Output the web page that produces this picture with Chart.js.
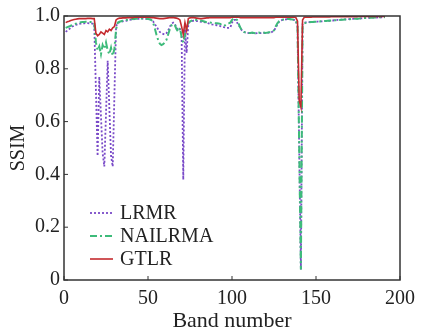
<!DOCTYPE html>
<html>
<head>
<meta charset="utf-8">
<script src="https://cdn.jsdelivr.net/npm/chart.js@4"></script>
<style>
html,body{margin:0;padding:0;background:#fff;}
#wrap{width:428px;height:331px;}
</style>
</head>
<body>
<div id="wrap"><canvas id="c" width="428" height="331"></canvas></div>
<script>
// ---- data (bands 1..191) ----
const bands = Array.from({length: 191}, (_, i) => i + 1);
const xTicks = [0, 50, 100, 150, 200];
const yTicks = [0, 0.2, 0.4, 0.6, 0.8, 1.0];
const seriesNames = ['LRMR', 'NAILRMA', 'GTLR'];

const lrmr = [
  0.94,0.945,0.95,0.955,0.96,0.963,0.966,0.968,0.97,0.971,
  0.972,0.972,0.973,0.973,0.972,0.972,0.971,0.97,0.72,0.47,
  0.77,0.62,0.48,0.43,0.63,0.83,0.65,0.47,0.43,0.70,
  0.96,0.975,0.976,0.978,0.98,0.981,0.982,0.984,0.985,0.986,
  0.987,0.988,0.988,0.989,0.989,0.99,0.99,0.99,0.989,0.988,
  0.987,0.985,0.98,0.97,0.96,0.95,0.94,0.935,0.932,0.93,
  0.935,0.945,0.96,0.97,0.975,0.97,0.955,0.945,0.95,0.93,
  0.38,0.95,0.86,0.97,0.978,0.98,0.982,0.982,0.981,0.98,
  0.979,0.978,0.977,0.976,0.975,0.972,0.97,0.968,0.967,0.966,
  0.965,0.963,0.962,0.96,0.958,0.957,0.955,0.955,0.956,0.975,
  0.985,0.985,0.975,0.965,0.955,0.945,0.94,0.937,0.936,0.935,
  0.935,0.936,0.935,0.934,0.935,0.936,0.935,0.935,0.936,0.935,
  0.936,0.937,0.937,0.94,0.945,0.955,0.968,0.978,0.983,0.985,
  0.986,0.987,0.988,0.988,0.987,0.986,0.985,0.982,0.96,0.50,
  0.04,0.97,0.975,0.976,0.977,0.977,0.978,0.978,0.978,0.979,
  0.979,0.98,0.98,0.98,0.981,0.981,0.982,0.982,0.983,0.983,
  0.984,0.984,0.985,0.985,0.986,0.986,0.987,0.987,0.988,0.988,
  0.989,0.989,0.99,0.99,0.99,0.991,0.991,0.992,0.992,0.992,
  0.993,0.993,0.993,0.994,0.994,0.994,0.995,0.995,0.995,0.995,
  0.996
];
const nailrma = [
  0.955,0.958,0.96,0.963,0.966,0.969,0.971,0.973,0.975,0.976,
  0.977,0.977,0.978,0.978,0.977,0.977,0.976,0.975,0.90,0.87,
  0.885,0.855,0.89,0.875,0.90,0.87,0.855,0.88,0.85,0.875,
  0.95,0.975,0.978,0.98,0.982,0.984,0.985,0.986,0.987,0.988,
  0.989,0.99,0.99,0.99,0.991,0.991,0.991,0.99,0.99,0.989,
  0.988,0.985,0.975,0.955,0.93,0.91,0.895,0.89,0.893,0.90,
  0.91,0.93,0.95,0.965,0.97,0.965,0.95,0.94,0.955,0.92,
  0.90,0.93,0.955,0.975,0.98,0.982,0.984,0.985,0.985,0.984,
  0.983,0.982,0.98,0.978,0.976,0.975,0.975,0.974,0.974,0.973,
  0.973,0.972,0.97,0.965,0.962,0.965,0.97,0.972,0.975,0.985,
  0.99,0.99,0.985,0.97,0.955,0.945,0.94,0.938,0.937,0.936,
  0.936,0.937,0.936,0.935,0.936,0.937,0.936,0.936,0.937,0.936,
  0.937,0.938,0.938,0.941,0.946,0.96,0.972,0.98,0.984,0.986,
  0.987,0.988,0.989,0.989,0.988,0.987,0.986,0.983,0.96,0.50,
  0.04,0.96,0.972,0.974,0.975,0.976,0.977,0.977,0.978,0.978,
  0.979,0.979,0.98,0.98,0.981,0.981,0.982,0.982,0.983,0.983,
  0.984,0.984,0.985,0.985,0.986,0.986,0.987,0.987,0.988,0.988,
  0.989,0.989,0.99,0.99,0.99,0.991,0.991,0.992,0.992,0.992,
  0.993,0.993,0.993,0.994,0.994,0.994,0.995,0.995,0.995,0.995,
  0.996
];
const gtlr = [
  0.975,0.978,0.98,0.983,0.985,0.987,0.988,0.989,0.99,0.99,
  0.99,0.99,0.99,0.991,0.991,0.991,0.99,0.99,0.935,0.925,
  0.93,0.94,0.935,0.93,0.945,0.94,0.95,0.945,0.955,0.96,
  0.985,0.99,0.992,0.992,0.993,0.993,0.993,0.994,0.994,0.994,
  0.994,0.995,0.995,0.995,0.995,0.995,0.995,0.995,0.995,0.995,
  0.995,0.994,0.994,0.993,0.992,0.991,0.99,0.99,0.99,0.991,
  0.992,0.993,0.994,0.994,0.994,0.993,0.992,0.99,0.985,0.96,
  0.93,0.975,0.945,0.99,0.993,0.994,0.994,0.993,0.992,0.991,
  0.99,0.99,0.991,0.992,0.993,0.993,0.994,0.994,0.994,0.994,
  0.994,0.994,0.994,0.994,0.994,0.994,0.994,0.994,0.994,0.995,
  0.995,0.995,0.995,0.995,0.994,0.994,0.994,0.994,0.994,0.994,
  0.994,0.994,0.994,0.994,0.994,0.994,0.994,0.994,0.994,0.994,
  0.994,0.994,0.994,0.994,0.994,0.995,0.995,0.995,0.995,0.995,
  0.995,0.995,0.995,0.995,0.995,0.995,0.995,0.994,0.98,0.68,
  0.655,0.985,0.995,0.995,0.995,0.995,0.995,0.996,0.996,0.996,
  0.996,0.996,0.996,0.996,0.996,0.996,0.996,0.996,0.997,0.997,
  0.997,0.997,0.997,0.997,0.997,0.997,0.997,0.997,0.997,0.997,
  0.997,0.997,0.997,0.997,0.998,0.998,0.998,0.998,0.998,0.998,
  0.998,0.998,0.998,0.998,0.998,0.998,0.998,0.998,0.998,0.998,
  0.998
];

const FONT = "'Liberation Serif', 'DejaVu Serif', 'Times New Roman', serif";
const toXY = vals => bands.map((b, i) => ({x: b, y: vals[i]}));

const styles = [
  {color: '#7a4bc8', dash: [2, 2], width: 1.8},
  {color: '#3dbb7a', dash: [7, 3, 2, 3], width: 2},
  {color: '#c42a2e', dash: [], width: 1.6}
];
const seriesValues = [lrmr, nailrma, gtlr];

const datasets = seriesNames.map((name, k) => ({
  label: name,
  data: toXY(seriesValues[k]),
  borderColor: styles[k].color,
  borderDash: styles[k].dash,
  borderWidth: styles[k].width,
  pointRadius: 0,
  tension: 0,
  fill: false
}));
datasets[0].order = 3; datasets[1].order = 2; datasets[2].order = 1;

const framePlugin = {
  id: 'frame',
  afterDatasetsDraw(chart) {
    const {ctx, chartArea: a, scales} = chart;
    ctx.save();
    ctx.strokeStyle = '#333';
    ctx.lineWidth = 1.5;
    ctx.setLineDash([]);
    ctx.strokeRect(a.left, a.top, a.right - a.left, a.bottom - a.top);
    ctx.lineWidth = 1;
    xTicks.forEach(v => {
      const x = scales.x.getPixelForValue(v);
      ctx.beginPath(); ctx.moveTo(x, a.bottom); ctx.lineTo(x, a.bottom - 4); ctx.stroke();
    });
    yTicks.forEach(v => {
      const y = scales.y.getPixelForValue(v);
      ctx.beginPath(); ctx.moveTo(a.left, y); ctx.lineTo(a.left + 4, y); ctx.stroke();
    });
    const lx = a.left + 26, ly = a.bottom - 67, gap = 23;
    ctx.font = '20px ' + FONT;
    ctx.textBaseline = 'middle';
    ctx.fillStyle = '#222';
    chart.data.datasets.forEach((ds, i) => {
      const y = ly + i * gap;
      ctx.strokeStyle = ds.borderColor;
      ctx.lineWidth = ds.borderWidth;
      ctx.setLineDash(ds.borderDash);
      ctx.beginPath(); ctx.moveTo(lx, y); ctx.lineTo(lx + 23, y); ctx.stroke();
      ctx.setLineDash([]);
      ctx.fillText(ds.label, lx + 30, y + 1);
    });
    ctx.restore();
  }
};

new Chart(document.getElementById('c'), {
  type: 'line',
  data: {datasets},
  options: {
    responsive: false,
    animation: false,
    layout: {padding: {top: 16, right: 28, left: 0, bottom: 0}},
    plugins: {legend: {display: false}, tooltip: {enabled: false}},
    scales: {
      x: {
        type: 'linear', min: 0, max: 200,
        afterBuildTicks: s => { s.ticks = xTicks.map(v => ({value: v})); },
        afterFit: s => { s.height = 51; },
        grid: {display: false, drawTicks: false},
        border: {display: false},
        ticks: {padding: 7, color: '#222', font: {family: FONT, size: 20}, maxRotation: 0,
                callback: v => String(v)},
        title: {display: true, text: 'Band number', color: '#222',
                font: {family: FONT, size: 22, lineHeight: 0.85}, padding: {top: 0, bottom: 0}}
      },
      y: {
        min: 0, max: 1,
        afterBuildTicks: s => { s.ticks = yTicks.map(v => ({value: v})); },
        afterFit: s => { s.width = 64; },
        grid: {display: false, drawTicks: false},
        border: {display: false},
        ticks: {padding: 4, color: '#222', font: {family: FONT, size: 20},
                callback: v => v === 0 ? '0' : v.toFixed(1)},
        title: {display: true, text: 'SSIM', color: '#222',
                font: {family: FONT, size: 20, lineHeight: 1.2}, padding: {top: 7, bottom: 0}}
      }
    }
  },
  plugins: [framePlugin]
});
</script>
</body>
</html>
